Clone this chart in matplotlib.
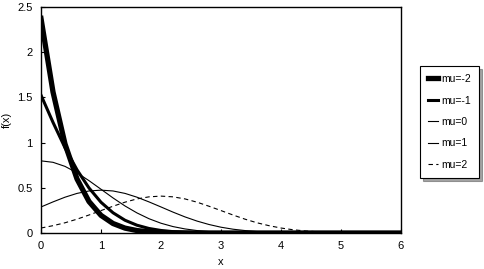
import matplotlib
matplotlib.use("Agg")
import matplotlib.pyplot as plt

# values
x = [0.0, 0.2, 0.4, 0.6, 0.8, 1.0, 1.2, 1.4, 1.6, 1.8, 2.0,
     2.2, 2.4, 2.6, 2.8, 3.0, 3.2, 3.4, 3.6, 3.8, 4.0,
     4.2, 4.4, 4.6, 4.8, 5.0, 5.2, 5.4, 5.6, 5.8, 6.0]

f_mu_m2 = [2.374, 1.560, 0.985, 0.598, 0.348, 0.195, 0.105, 0.054, 0.027, 0.013, 0.006,
           0.0026, 0.0011, 0.0004, 0.0002, 0.0, 0.0, 0.0, 0.0, 0.0, 0.0,
           0.0, 0.0, 0.0, 0.0, 0.0, 0.0, 0.0, 0.0, 0.0, 0.0]
f_mu_m1 = [1.525, 1.224, 0.943, 0.699, 0.498, 0.340, 0.224, 0.141, 0.086, 0.050, 0.028,
           0.015, 0.0078, 0.0039, 0.0018, 0.0008, 0.0004, 0.0002, 0.0, 0.0, 0.0,
           0.0, 0.0, 0.0, 0.0, 0.0, 0.0, 0.0, 0.0, 0.0, 0.0]
f_mu_0 = [0.798, 0.782, 0.737, 0.666, 0.579, 0.484, 0.388, 0.299, 0.222, 0.158, 0.108,
          0.071, 0.045, 0.027, 0.016, 0.0089, 0.0048, 0.0025, 0.0012, 0.0006, 0.0003,
          0.0, 0.0, 0.0, 0.0, 0.0, 0.0, 0.0, 0.0, 0.0, 0.0]
f_mu_1 = [0.288, 0.344, 0.396, 0.438, 0.465, 0.474, 0.465, 0.438, 0.396, 0.344, 0.288,
          0.231, 0.178, 0.132, 0.094, 0.064, 0.042, 0.027, 0.016, 0.0094, 0.0053,
          0.0028, 0.0015, 0.0007, 0.0003, 0.0002, 0.0, 0.0, 0.0, 0.0, 0.0]
f_mu_2 = [0.055, 0.081, 0.113, 0.153, 0.199, 0.248, 0.296, 0.341, 0.377, 0.400, 0.408,
          0.400, 0.377, 0.341, 0.296, 0.248, 0.199, 0.153, 0.113, 0.081, 0.055,
          0.036, 0.023, 0.014, 0.008, 0.0045, 0.0024, 0.0013, 0.0006, 0.0003, 0.0001]

labels = ["mu=-2", "mu=-1", "mu=0", "mu=1", "mu=2"]

plt.rcParams['font.family'] = ['Liberation Sans', 'DejaVu Sans']

fig = plt.figure(figsize=(4.84, 2.69), dpi=100)
ax = fig.add_axes([41 / 484, 1 - 233 / 269, 360 / 484, 226 / 269])

ax.plot(x, f_mu_m2, color="black", lw=3.8, label=labels[0])
ax.plot(x, f_mu_m1, color="black", lw=2.2, label=labels[1])
ax.plot(x, f_mu_0, color="black", lw=0.8, label=labels[2])
ax.plot(x, f_mu_1, color="black", lw=0.8, label=labels[3])
ax.plot(x, f_mu_2, color="black", lw=0.8, ls=(0, (4, 3)), label=labels[4])

ax.set_xlim(0, 6)
ax.set_ylim(0, 2.5)
ax.set_xticks([0, 1, 2, 3, 4, 5, 6])
ax.set_yticks([0, 0.5, 1, 1.5, 2, 2.5])
ax.set_yticklabels(["0", "0.5", "1", "1.5", "2", "2.5"])
ax.tick_params(direction="in", length=3, width=0.8, labelsize=8, pad=6)
for s in ax.spines.values():
    s.set_linewidth(1.0)

ax.set_xlabel("x", fontsize=8, labelpad=4)
ax.set_ylabel("f(x)", fontsize=8, labelpad=4)

leg = ax.legend(loc="center left", bbox_to_anchor=(420 / 484, 1 - 122 / 269),
                bbox_transform=fig.transFigure, fontsize=7.5, frameon=True,
                fancybox=False, shadow=True, handlelength=0.9, handletextpad=0.3,
                labelspacing=1.1, borderpad=0.8, borderaxespad=0)
leg.get_frame().set_edgecolor("black")
leg.get_frame().set_linewidth(0.8)

fig.savefig("out.png", dpi=100)
